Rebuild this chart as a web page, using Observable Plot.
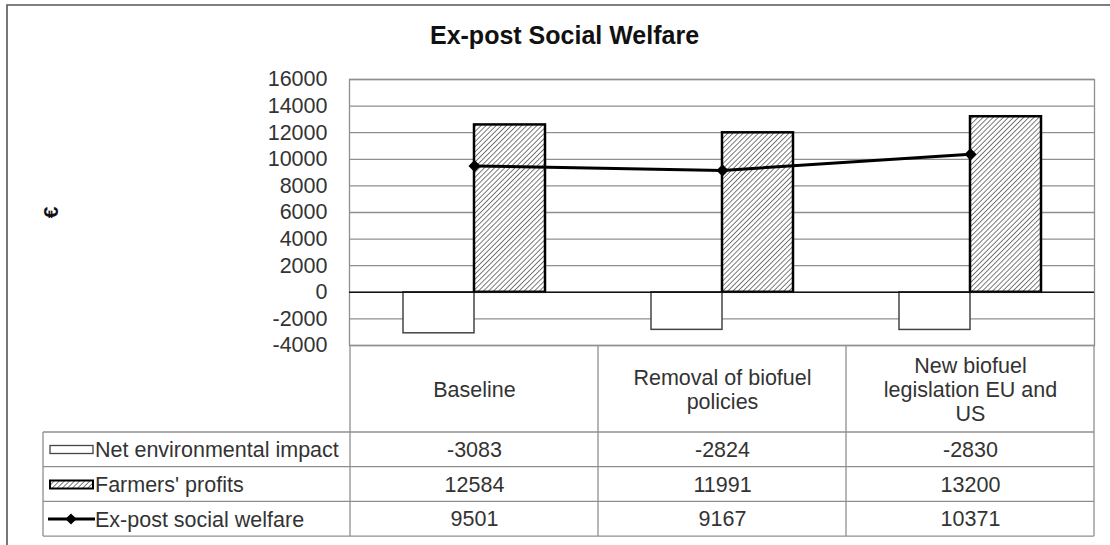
<!DOCTYPE html>
<html><head><meta charset="utf-8">
<script src="https://cdn.jsdelivr.net/npm/d3@7"></script>
<script src="https://cdn.jsdelivr.net/npm/@observablehq/plot@0.6"></script>
<style>
body{margin:0;background:#fff;}
#chart{position:relative;width:1110px;height:545px;overflow:hidden;background:#fff;}
</style></head><body><div id="chart"></div>
<script>
const title = "Ex-post Social Welfare";
const yLabel = "€";
const categories = ["Baseline", "Removal of biofuel policies", "New biofuel legislation EU and US"];
const categoryLabels = ["Baseline", "Removal of biofuel\npolicies", "New biofuel\nlegislation EU and\nUS"];
const seriesNames = ["Net environmental impact", "Farmers' profits", "Ex-post social welfare"];
const netEnvironmental = [-3083, -2824, -2830];
const farmersProfits = [12584, 11991, 13200];
const socialWelfare = [9501, 9167, 10371];
const yTicks = [-4000, -2000, 0, 2000, 4000, 6000, 8000, 10000, 12000, 14000, 16000];

const W = 1110, H = 545, ML = 349, MR = 16, MT = 79, MB = 200;
const FONT = "'Liberation Sans', Arial, sans-serif";
const GRID = "#8f8f8f";
const TXT = "#333";
const FS = 21.5;

const netData = categories.map((c, i) => ({cat: c, value: netEnvironmental[i]}));
const farmData = categories.map((c, i) => ({cat: c, value: farmersProfits[i]}));
const lineData = categories.map((c, i) => ({cat: c, value: socialWelfare[i]}));
const rows = [netEnvironmental, farmersProfits, socialWelfare];
const rowCenters = [449.5, 484.5, 519];
const plotBottom = H - MB;

const plot = Plot.plot({
  width: W, height: H,
  marginLeft: ML, marginRight: MR, marginTop: MT, marginBottom: MB,
  style: {fontFamily: FONT, fontSize: FS + "px", color: TXT, background: "transparent", overflow: "visible"},
  x: {domain: categories, padding: 0, axis: null},
  y: {domain: [-4000, 16000]},
  marks: [
    Plot.gridY(yTicks, {stroke: GRID, strokeOpacity: 1, strokeWidth: 1.3}),
    Plot.frame({stroke: GRID, strokeWidth: 1.3}),
    Plot.axisY(yTicks, {tickSize: 0, tickPadding: 22, fontSize: FS, fill: TXT, tickFormat: d => String(d),
      label: null}),
    Plot.axisY({ticks: [], tickSize: 0, label: yLabel, labelAnchor: "center", labelOffset: 306, labelArrow: "none",
      fontSize: 21, fontWeight: "bold", fill: "#111"}),
    Plot.barY(netData, {x: "cat", y: "value", fill: "white", stroke: "#444", strokeWidth: 1.5, insetLeft: 53, insetRight: 124}),
    Plot.barY(farmData, {x: "cat", y: "value", fill: "url(#hatch)", stroke: "#000", strokeWidth: 2.5, insetLeft: 124, insetRight: 53}),
    Plot.ruleY([0], {stroke: "#111", strokeWidth: 1.5}),
    Plot.line(lineData, {x: "cat", y: "value", stroke: "#000", strokeWidth: 3}),
    Plot.dot(lineData, {x: "cat", y: "value", symbol: "diamond2", fill: "#000", stroke: "#000", r: 4.5}),
    Plot.text(categories, {x: d => d, text: (d, i) => categoryLabels[i], frameAnchor: "bottom", dy: 44,
      lineAnchor: "middle", lineHeight: 1.12, fontSize: FS, fill: TXT}),
    ...rows.map((vals, r) => Plot.text(categories, {x: d => d, text: (d, i) => String(vals[i]), frameAnchor: "bottom",
      dy: rowCenters[r] - plotBottom, lineAnchor: "middle", fontSize: FS, fill: TXT})),
    Plot.text([title], {frameAnchor: "top-left", dx: 564 - ML, dy: 35 - MT, text: d => d, textAnchor: "middle",
      lineAnchor: "middle", fontSize: 25, fontWeight: "bold", fill: "#111"})
  ]
});

const svg = d3.select(plot);
// hatch pattern
const defs = svg.insert("defs", ":first-child");
const pat = defs.append("pattern").attr("id", "hatch").attr("patternUnits", "userSpaceOnUse")
  .attr("width", 3.6).attr("height", 3.6).attr("patternTransform", "rotate(45)");
pat.append("rect").attr("width", 3.6).attr("height", 3.6).attr("fill", "#fff");
pat.append("line").attr("x1", 0).attr("y1", 0).attr("x2", 0).attr("y2", 3.6).attr("stroke", "#333").attr("stroke-width", 1.3);

// data table grid and legend column, positioned from the x scale
const xs = plot.scale("x");
const bw = xs.bandwidth;
const starts = categories.map(c => xs.apply(c));
const right = starts[starts.length - 1] + bw;
const tableLeft = 43, headerBottom = 432, rowH = 34.7, tableBottom = headerBottom + 3 * rowH;
const g = svg.append("g").attr("stroke", GRID).attr("stroke-width", 1.3).attr("fill", "none");
[...starts, right].forEach(x => g.append("line").attr("x1", x).attr("x2", x).attr("y1", plotBottom).attr("y2", tableBottom));
g.append("line").attr("x1", tableLeft).attr("x2", tableLeft).attr("y1", headerBottom).attr("y2", tableBottom);
for (let r = 0; r <= 3; r++) {
  const y = headerBottom + r * rowH;
  g.append("line").attr("x1", tableLeft).attr("x2", right).attr("y1", y).attr("y2", y);
}
// legend keys and series names
const lg = svg.append("g");
rowCenters.forEach((cy, r) => {
  if (r === 0) lg.append("rect").attr("x", 50).attr("y", cy - 4).attr("width", 43).attr("height", 8).attr("fill", "#fff").attr("stroke", "#444").attr("stroke-width", 1.3);
  if (r === 1) lg.append("rect").attr("x", 50).attr("y", cy - 4).attr("width", 43).attr("height", 8).attr("fill", "url(#hatch)").attr("stroke", "#000").attr("stroke-width", 2);
  if (r === 2) {
    lg.append("line").attr("x1", 48).attr("x2", 95).attr("y1", cy).attr("y2", cy).attr("stroke", "#000").attr("stroke-width", 3);
    lg.append("path").attr("d", d3.symbol(d3.symbolDiamond2, 80)()).attr("transform", `translate(71,${cy})`).attr("fill", "#000");
  }
  lg.append("text").attr("x", 95).attr("y", cy).attr("dy", "0.35em").attr("text-anchor", "start")
    .attr("font-family", FONT).attr("font-size", FS).attr("fill", TXT).text(seriesNames[r]);
});
// outer chart frame
svg.append("path").attr("d", `M7,${H}V5H${W}`).attr("fill", "none").attr("stroke", "#555").attr("stroke-width", 1.6);

document.getElementById("chart").appendChild(plot);
</script></body></html>
